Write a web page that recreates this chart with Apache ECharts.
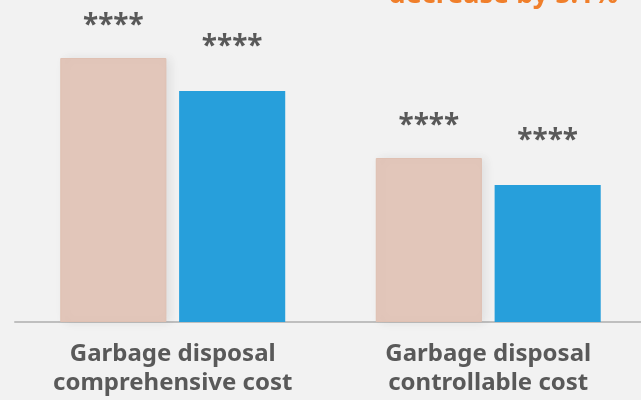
<!DOCTYPE html>
<html>
<head>
<meta charset="utf-8">
<script src="https://cdn.jsdelivr.net/npm/echarts@6/dist/echarts.min.js"></script>
<style>
  html, body { margin: 0; padding: 0; background: #f2f2f2; }
  #chart { width: 641px; height: 400px; }
</style>
</head>
<body>
<div id="chart"></div>
<script>
const categories = ['Garbage disposal\ncomprehensive cost', 'Garbage disposal\ncontrollable cost'];
const beforeValues = [264, 164];
const afterValues = [231, 137];
const barLabel = '****';
const headline = 'decrease by 5.1%';

const chart = echarts.init(document.getElementById('chart'));

const labelStyle = {
    show: true,
    position: 'top',
    formatter: barLabel,
    color: '#595959',
    fontSize: 28,
    fontWeight: 'bold',
    fontFamily: 'Noto Sans'
};

chart.setOption({
    backgroundColor: '#f2f2f2',
    animation: false,
    title: {
        text: headline,
        right: 18,
        top: -23,
        textStyle: {
            color: '#f07f2b',
            fontSize: 27,
            fontWeight: 'bold',
            fontFamily: 'Noto Sans'
        }
    },
    grid: {
        left: 15,
        right: -5,
        top: 22,
        bottom: 78,
        containLabel: false,
        outerBoundsMode: 'none'
    },
    xAxis: {
        type: 'category',
        data: categories,
        axisLine: { lineStyle: { color: '#bfbfbf', width: 2 } },
        axisTick: { show: false },
        axisLabel: {
            margin: 18,
            color: '#595959',
            fontSize: 24,
            fontWeight: 'bold',
            fontFamily: 'Noto Sans',
            lineHeight: 29
        }
    },
    yAxis: {
        type: 'value',
        min: 0,
        max: 300,
        show: false,
        splitLine: { show: false }
    },
    series: [
        {
            type: 'bar',
            data: beforeValues,
            barGap: '12%',
            barCategoryGap: '28.7%',
            itemStyle: {
                color: '#e2c6ba',
                borderColor: '#dfc0b2',
                borderWidth: 1,
                shadowColor: 'rgba(0,0,0,0.08)',
                shadowBlur: 10,
                shadowOffsetX: 4
            },
            label: Object.assign({}, labelStyle, { distance: 18 })
        },
        {
            type: 'bar',
            data: afterValues,
            itemStyle: { color: '#279fdb' },
            label: Object.assign({}, labelStyle, { distance: 30 })
        }
    ]
});
</script>
</body>
</html>
